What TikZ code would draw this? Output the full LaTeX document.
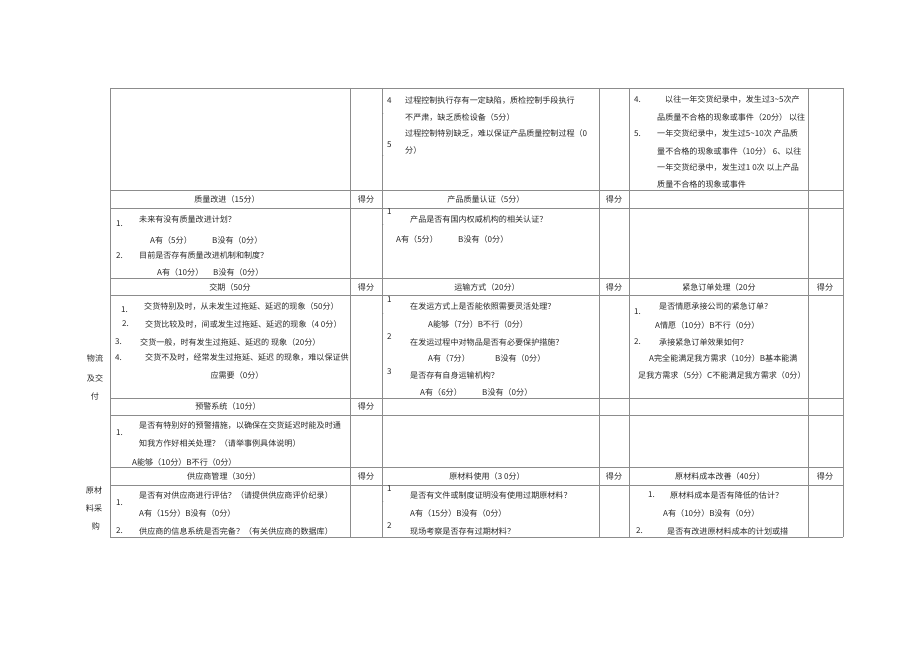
\documentclass[tikz,border=0pt]{standalone}
\usepackage{fontspec}
\setmainfont{Noto Sans CJK SC}
\begin{document}
\begin{tikzpicture}[x=1bp, y=-1bp,
	txt/.style={anchor=west, inner sep=0pt, font=\fontsize{8.1}{9}\selectfont, text=black!85},
	head/.style={inner sep=0pt, font=\fontsize{8.1}{9}\selectfont, text=black!85},
	tick/.style={anchor=west, inner sep=0pt, font=\fontsize{5}{6}\selectfont, text=black!60},
	rule/.style={draw=black!45, line width=0.5pt}]
	\useasboundingbox (0,0) rectangle (920,651);
	
	% grid
	\draw[rule] (110,88) -- (843,88);
	\draw[rule] (110,190) -- (843,190);
	\draw[rule] (110,208) -- (843,208);
	\draw[rule] (110,278) -- (843,278);
	\draw[rule] (110,295) -- (843,295);
	\draw[rule] (110,398) -- (843,398);
	\draw[rule] (110,415) -- (843,415);
	\draw[rule] (110,467) -- (843,467);
	\draw[rule] (110,485) -- (843,485);
	\draw[rule] (110,537) -- (843,537);
	\draw[rule] (110,88) -- (110,537);
	\draw[rule] (350,88) -- (350,537);
	\draw[rule] (382,88) -- (382,537);
	\draw[rule] (599,88) -- (599,537);
	\draw[rule] (629,88) -- (629,537);
	\draw[rule] (808,88) -- (808,537);
	\draw[rule] (843,88) -- (843,537);
	
	% side labels
	\node (wl1) [head] at (95,358) {物流};
	\node (wl2) [head] at (95,378) {及交};
	\node (wl3) [head] at (95,396) {付};
	\node (yc1) [head] at (94,490) {原材};
	\node (yc2) [head] at (94,508) {料采};
	\node (yc3) [head] at (96,526) {购};
	
	% row 1
	\node (gc4) [txt] at (387,101) {4};
	\node (gc4t) [tick] at (382,115) {-};
	\node (gc4a) [txt] at (405,101) {过程控制执行存有一定缺陷，质检控制手段执行};
	\node (gc4b) [txt] at (405,117) {不严肃，缺乏质检设备（5分）};
	\node (gc5a) [txt] at (405,133) {过程控制特别缺乏，难以保证产品质量控制过程（0};
	\node (gc5) [txt] at (387,145) {5};
	\node (gc5b) [txt] at (405,150) {分）};
	\node (gc5t) [tick] at (382,157) {-};
	\node (jh4) [txt] at (634,100) {4.};
	\node (jh4a) [txt] at (665,100) {以往一年交货纪录中，发生过3\textasciitilde 5次产};
	\node (jh4b) [txt] at (657,117) {品质量不合格的现象或事件（20分） 以往};
	\node (jh5) [txt] at (634,134) {5.};
	\node (jh5a) [txt] at (657,134) {一年交货纪录中，发生过5\textasciitilde 10次 产品质};
	\node (jh5b) [txt] at (657,151) {量不合格的现象或事件（10分） 6、以往};
	\node (jh6a) [txt] at (657,168) {一年交货纪录中，发生过1 0次 以上产品};
	\node (jh6b) [txt] at (657,184) {质量不合格的现象或事件};
	
	% header 1
	\node (zlgj) [head] at (227,199) {质量改进（15分）};
	\node (df1) [head] at (366,199) {得分};
	\node (cprz) [head] at (486,199) {产品质量认证（5分）};
	\node (df2) [head] at (614,199) {得分};
	
	% row 2
	\node (zl1) [txt] at (116,224) {1.};
	\node (zl1q) [txt] at (139,219) {未来有没有质量改进计划？};
	\node (zl1a) [txt] at (150,240) {A有（5分）};
	\node (zl1b) [txt] at (212,240) {B没有（0分）};
	\node (zl2) [txt] at (116,256) {2.};
	\node (zl2q) [txt] at (139,255) {目前是否存有质量改进机制和制度？};
	\node (zl2a) [txt] at (157,272) {A有（10分）};
	\node (zl2b) [txt] at (213,272) {B没有（0分）};
	\node (rz1) [txt] at (387,212) {1};
	\node (rz1t) [tick] at (382,226) {-};
	\node (rz1q) [txt] at (410,219) {产品是否有国内权威机构的相关认证？};
	\node (rz1a) [txt] at (396,239) {A有（5分）};
	\node (rz1b) [txt] at (458,239) {B没有（0分）};
	
	% header 2
	\node (jq) [head] at (230,287) {交期（50分};
	\node (df3) [head] at (366,287) {得分};
	\node (ysfs) [head] at (487,287) {运输方式（20分）};
	\node (df4) [head] at (614,287) {得分};
	\node (jjdd) [head] at (719,287) {紧急订单处理（20分};
	\node (df5) [head] at (825,287) {得分};
	
	% row 3
	\node (jq1) [txt] at (121,310) {1.};
	\node (jq1q) [txt] at (144,306) {交货特别及时，从未发生过拖延、延迟的现象（50分）};
	\node (jq2) [txt] at (122,324) {2.};
	\node (jq2q) [txt] at (145,324) {交货比较及时，间或发生过拖延、延迟的现象（4 0分）};
	\node (jq3) [txt] at (115,342) {3.};
	\node (jq3q) [txt] at (140,342) {交货一般，时有发生过拖延、延迟的 现象（20分）};
	\node (jq4) [txt] at (115,358) {4.};
	\node (jq4q) [txt] at (145,358) {交货不及时，经常发生过拖延、延迟 的现象，难以保证供};
	\node (jq4r) [head] at (237,375) {应需要（0分）};
	\node (ys1) [txt] at (387,300) {1};
	\node (ys1t) [tick] at (382,315) {-};
	\node (ys1q) [txt] at (410,306) {在发运方式上是否能依照需要灵活处理？};
	\node (ys1a) [txt] at (428,324) {A能够（7分）B不行（0分）};
	\node (ys2) [txt] at (387,337) {2};
	\node (ys2q) [txt] at (410,342) {在发运过程中对物品是否有必要保护措施？};
	\node (ys2a) [txt] at (428,358) {A有（7分）};
	\node (ys2b) [txt] at (495,358) {B没有（0分）};
	\node (ys3) [txt] at (387,372) {3};
	\node (ys3q) [txt] at (410,375) {是否存有自身运输机构？};
	\node (ys3a) [txt] at (420,392) {A有（6分）};
	\node (ys3b) [txt] at (482,392) {B没有（0分）};
	\node (jj1) [txt] at (634,312) {1.};
	\node (jj1q) [txt] at (659,306) {是否情愿承接公司的紧急订单？};
	\node (jj1a) [txt] at (655,325) {A情愿（10分）B不行（0分）};
	\node (jj2) [txt] at (634,342) {2.};
	\node (jj2q) [txt] at (659,342) {承接紧急订单效果如何？};
	\node (jj2a) [txt] at (649,358) {A完全能满足我方需求（10分）B基本能满};
	\node (jj2b) [txt] at (638,375) {足我方需求（5分）C不能满足我方需求（0分）};
	
	% header 3
	\node (yjxt) [head] at (228,406) {预警系统（10分）};
	\node (df6) [head] at (366,406) {得分};
	
	% row 4
	\node (yj1) [txt] at (116,433) {1.};
	\node (yj1q) [txt] at (139,426) {是否有特别好的预警措施，以确保在交货延迟时能及时通};
	\node (yj1r) [txt] at (139,443) {知我方作好相关处理？（请举事例具体说明）};
	\node (yj1a) [txt] at (132,462) {A能够（10分）B不行（0分）};
	
	% header 4
	\node (gysgl) [head] at (224,476) {供应商管理（30分）};
	\node (df7) [head] at (366,476) {得分};
	\node (yclsy) [head] at (487,476) {原材料使用（3 0分）};
	\node (df8) [head] at (614,476) {得分};
	\node (cbgs) [head] at (720,476) {原材料成本改善（40分）};
	\node (df9) [head] at (825,476) {得分};
	
	% row 5
	\node (gy1) [txt] at (116,503) {1.};
	\node (gy1q) [txt] at (139,495) {是否有对供应商进行评估？（请提供供应商评价纪录）};
	\node (gy1a) [txt] at (139,513) {A有（15分）B没有（0分）};
	\node (gy2) [txt] at (116,531) {2.};
	\node (gy2q) [txt] at (139,531) {供应商的信息系统是否完备？（有关供应商的数据库）};
	\node (sy1) [txt] at (387,489) {1};
	\node (sy1t) [tick] at (382,503) {-};
	\node (sy1q) [txt] at (410,495) {是否有文件或制度证明没有使用过期原材料？};
	\node (sy1a) [txt] at (410,513) {A有（15分）B没有（0分）};
	\node (sy2) [txt] at (387,526) {2};
	\node (sy2q) [txt] at (410,531) {现场考察是否存有过期材料？};
	\node (cb1) [txt] at (648,495) {1.};
	\node (cb1q) [txt] at (670,495) {原材料成本是否有降低的估计？};
	\node (cb1a) [txt] at (663,513) {A有（10分）B没有（0分）};
	\node (cb2) [txt] at (636,531) {2.};
	\node (cb2q) [txt] at (667,531) {是否有改进原材料成本的计划或措};
\end{tikzpicture}
\end{document}
